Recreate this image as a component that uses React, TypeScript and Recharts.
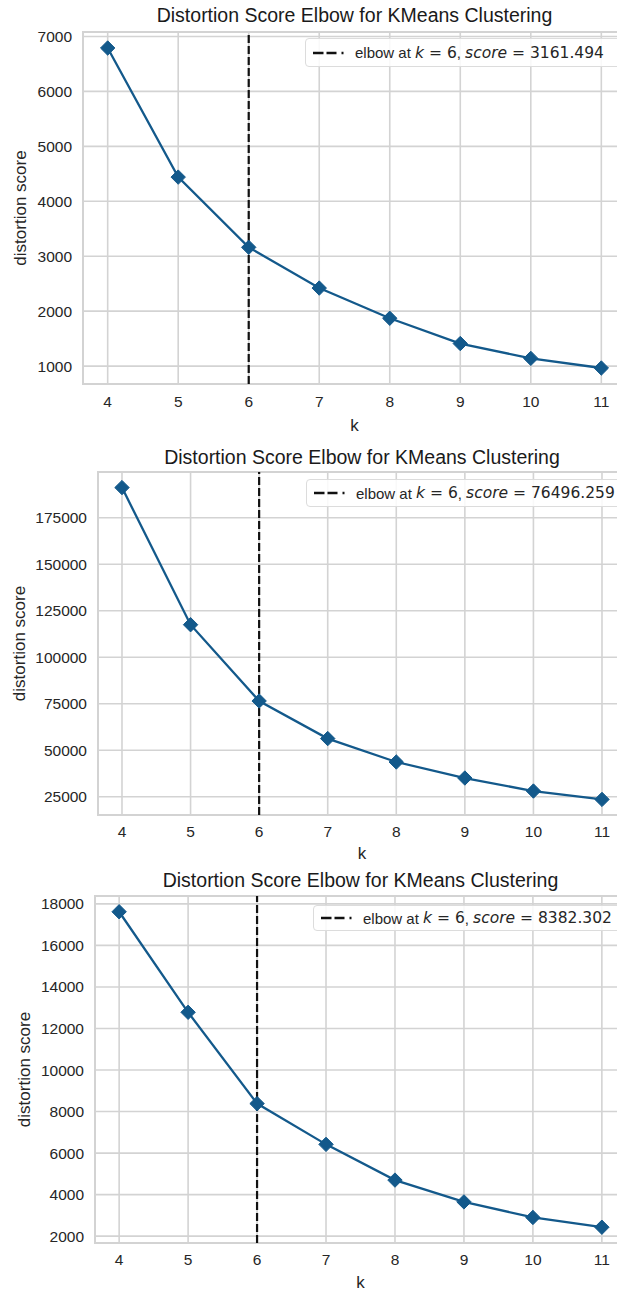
import React from "react";
import {
  LineChart,
  Line,
  XAxis,
  YAxis,
  CartesianGrid,
  ReferenceLine,
  ReferenceArea,
} from "recharts";

// k values tried by the elbow search
const kValues = [4, 5, 6, 7, 8, 9, 10, 11];
// distortion score per k, one list per run
const distortionA = [6790, 4440, 3161.494, 2420, 1870, 1410, 1140, 965];
const distortionB = [191200, 117500, 76496.259, 56300, 43700, 35100, 28100, 23600];
const distortionC = [17620, 12780, 8382.302, 6420, 4700, 3650, 2900, 2430];
// y tick labels per run
const ticksA = [1000, 2000, 3000, 4000, 5000, 6000, 7000];
const ticksB = [25000, 50000, 75000, 100000, 125000, 150000, 175000];
const ticksC = [2000, 4000, 6000, 8000, 10000, 12000, 14000, 16000, 18000];
const elbowK = 6;

const TITLE = "Distortion Score Elbow for KMeans Clustering";
const LINE = "#13598b";
const GRID = "#d3d3d3";
const TEXT = "#262626";
const SANS = "'Liberation Sans', Arial, sans-serif";
const MATH = "'DejaVu Sans', sans-serif";
const PLOT_RIGHT = 626;
const TICK_FONT = 15.5;
const LABEL_FONT = 17;

// matplotlib-style 5% padding around the data
const padded = (vals: number[]): [number, number] => {
  const lo = Math.min(...vals);
  const hi = Math.max(...vals);
  const r = hi - lo;
  return [lo - 0.05 * r, hi + 0.05 * r];
};

const Diamond = (props: any) => {
  const { cx, cy, index } = props;
  if (cx == null || cy == null) return <g key={index} />;
  const r = 7.2;
  return (
    <polygon
      key={index}
      points={`${cx},${cy - r} ${cx + r},${cy} ${cx},${cy + r} ${cx - r},${cy}`}
      fill={LINE}
      stroke={LINE}
      strokeWidth={1}
    />
  );
};

const panels = [
  {
    scores: distortionA,
    ticks: ticksA,
    top: 32, bottom: 384, left: 83, titleY: 15, tickGap: 12.4, kDy: 41, yLabelX: 20,
    legend: { left: 305, top: 38, height: 29 },
  },
  {
    scores: distortionB,
    ticks: ticksB,
    top: 472, bottom: 815, left: 98, titleY: 457, tickGap: 11.4, kDy: 38, yLabelX: 19,
    legend: { left: 306, top: 479, height: 28 },
  },
  {
    scores: distortionC,
    ticks: ticksC,
    top: 896, bottom: 1243, left: 95, titleY: 880, tickGap: 11.4, kDy: 39, yLabelX: 24,
    legend: { left: 313, top: 905, height: 26 },
  },
];

const ElbowLegend = ({ score, left, top, height }: any) => (
  <div
    style={{
      position: "absolute",
      left,
      top,
      height: height - 2,
      width: 330,
      background: "rgba(255,255,255,0.85)",
      border: "1px solid #dcdcdc",
      borderRadius: 4,
      display: "flex",
      alignItems: "center",
      fontFamily: SANS,
      fontSize: 15,
      color: TEXT,
      whiteSpace: "nowrap",
    }}
  >
    <svg width={49} height={10} style={{ flex: "none" }}>
      <line
        x1={7}
        x2={38}
        y1={5}
        y2={5}
        stroke="#111"
        strokeWidth={2.4}
        strokeDasharray="10.5 3 10 5 2 10"
      />
    </svg>
    <span>elbow at&nbsp;</span>
    <span style={{ fontFamily: MATH, fontStyle: "italic", fontSize: 15.5 }}>k</span>
    <span style={{ fontFamily: MATH, fontSize: 15.5 }}>&nbsp;=&nbsp;{elbowK}</span>
    <span>,&nbsp;</span>
    <span style={{ fontFamily: MATH, fontStyle: "italic", fontSize: 15.5 }}>score</span>
    <span style={{ fontFamily: MATH, fontSize: 15.5 }}>&nbsp;=&nbsp;{score.toFixed(3)}</span>
  </div>
);

const ElbowPanel = ({ p }: any) => {
  const data = kValues.map((k, i) => ({ k, score: p.scores[i] }));
  const xDomain = padded(kValues);
  const elbowScore = p.scores[kValues.indexOf(elbowK)];
  const chartTop = p.top - 10;
  const plotH = p.bottom - p.top;
  return (
    <>
      <div
        style={{
          position: "absolute",
          left: p.left - 40,
          width: PLOT_RIGHT - p.left + 80,
          top: p.titleY - 12,
          height: 24,
          lineHeight: "24px",
          textAlign: "center",
          fontFamily: SANS,
          fontSize: 19.5,
          color: "#1a1a1a",
          whiteSpace: "nowrap",
        }}
      >
        {TITLE}
      </div>
      <div style={{ position: "absolute", left: 0, top: chartTop }}>
        <LineChart
          width={PLOT_RIGHT}
          height={plotH + 60}
          data={data}
          margin={{ top: 10, right: 0, bottom: 0, left: 0 }}
        >
          <CartesianGrid stroke={GRID} strokeWidth={1.6} />
          <XAxis
            dataKey="k"
            type="number"
            domain={xDomain}
            ticks={kValues}
            allowDataOverflow
            height={50}
            tickLine={false}
            axisLine={false}
            tickSize={0}
            tickMargin={p.tickGap}
            tick={{ fill: TEXT, fontSize: TICK_FONT, fontFamily: SANS }}
            label={{
              content: ({ viewBox }: any) => (
                <text
                  x={viewBox.x + viewBox.width / 2}
                  y={viewBox.y + p.kDy}
                  textAnchor="middle"
                  dominantBaseline="central"
                  fill={TEXT}
                  fontSize={LABEL_FONT}
                  fontFamily={SANS}
                >
                  k
                </text>
              ),
            }}
          />
          <YAxis
            type="number"
            domain={padded(p.scores)}
            ticks={p.ticks}
            allowDataOverflow
            width={p.left}
            tickLine={false}
            axisLine={false}
            tickSize={0}
            tickMargin={11}
            tick={{ fill: TEXT, fontSize: TICK_FONT, fontFamily: SANS }}
            label={{
              content: ({ viewBox }: any) => {
                const cy = viewBox.y + viewBox.height / 2;
                return (
                  <text
                    x={p.yLabelX}
                    y={cy}
                    transform={`rotate(-90, ${p.yLabelX}, ${cy})`}
                    textAnchor="middle"
                    dominantBaseline="central"
                    fill={TEXT}
                    fontSize={LABEL_FONT}
                    fontFamily={SANS}
                  >
                    distortion score
                  </text>
                );
              },
            }}
          />
          <ReferenceArea
            x1={xDomain[0]}
            x2={xDomain[1]}
            fill="none"
            stroke={GRID}
            strokeWidth={2}
            ifOverflow="visible"
          />
          <Line
            type="linear"
            dataKey="score"
            stroke={LINE}
            strokeWidth={2.3}
            dot={<Diamond />}
            activeDot={false}
            isAnimationActive={false}
          />
          <ReferenceLine
            x={elbowK}
            stroke="#111"
            strokeWidth={2.2}
            strokeDasharray="8 3"
          />
        </LineChart>
      </div>
      <ElbowLegend score={elbowScore} {...p.legend} />
    </>
  );
};

export default function App() {
  return (
    <div
      style={{
        position: "absolute",
        left: 0,
        top: 0,
        width: 617,
        height: 1291,
        overflow: "hidden",
        background: "#fff",
      }}
    >
      {panels.map((p, i) => (
        <ElbowPanel key={i} p={p} />
      ))}
    </div>
  );
}
